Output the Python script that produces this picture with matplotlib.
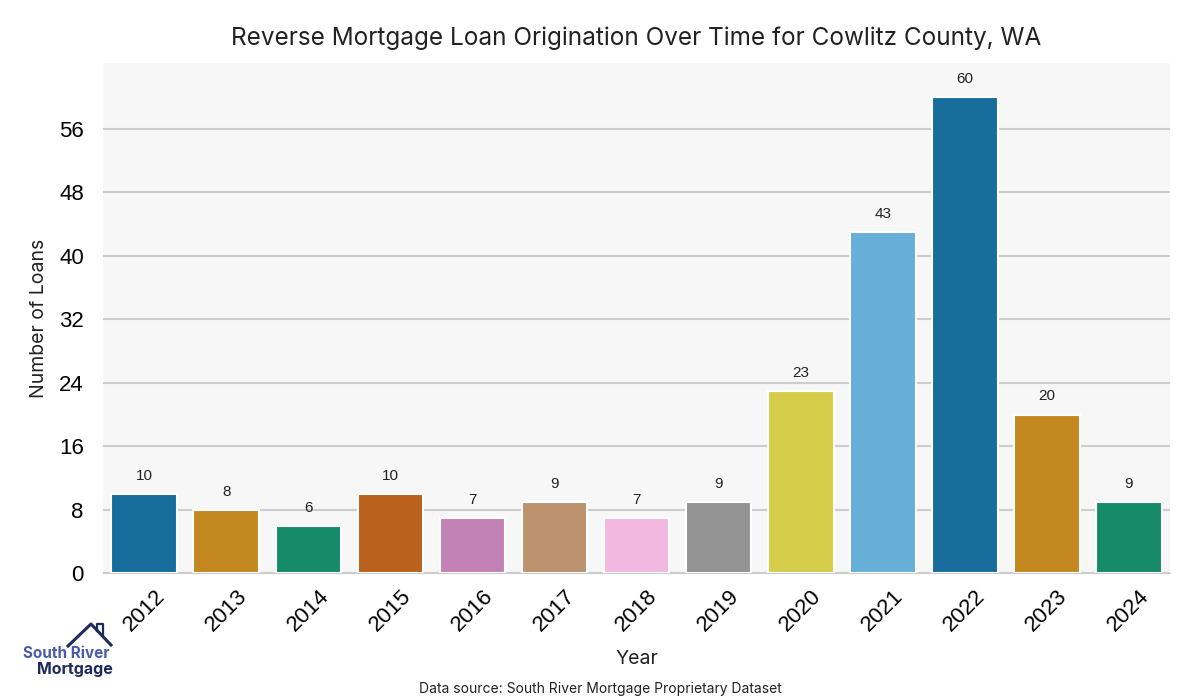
import matplotlib
matplotlib.use("Agg")
from matplotlib import pyplot as plt
from matplotlib.lines import Line2D
import seaborn as sns
import pandas as pd

years = ["2012", "2013", "2014", "2015", "2016", "2017", "2018",
         "2019", "2020", "2021", "2022", "2023", "2024"]
loans = [10, 8, 6, 10, 7, 9, 7, 9, 23, 43, 60, 20, 9]
yticks = [0, 8, 16, 24, 32, 40, 48, 56]

df = pd.DataFrame({"Year": years, "Loans": loans})

fig = plt.figure(figsize=(12, 7), dpi=100)
ax = fig.add_axes([0.086, 0.181, 0.889, 0.729])
ax.set_facecolor("#f7f7f7")

sns.barplot(data=df, x="Year", y="Loans", hue="Year", palette="colorblind",
            saturation=0.75, edgecolor="white", linewidth=1.5, legend=False,
            ax=ax, zorder=3)

for i, v in enumerate(loans):
    ax.text(i, v + 1.4, str(v), ha="center", va="bottom", fontsize=11,
            family="Liberation Sans", color="#222222")

ax.set_ylim(0, 64.3)
ax.set_xlim(-0.5, len(years) - 0.5)
ax.set_yticks(yticks)
ax.yaxis.grid(True, color="#cccccc", linewidth=1.5, zorder=0)
ax.set_axisbelow(True)
for s in ["top", "right", "left"]:
    ax.spines[s].set_visible(False)
ax.spines["bottom"].set_color("#cccccc")
ax.tick_params(axis="both", length=0)
ax.tick_params(axis="y", labelsize=16, pad=14)
ax.tick_params(axis="x", labelsize=16, pad=9)
for lab in ax.get_xticklabels():
    lab.set_rotation(45)
    lab.set_family("Liberation Sans")
for lab in ax.get_yticklabels():
    lab.set_family("Liberation Sans")

ax.set_xlabel("Year", fontsize=14, family="Inter", color="#222222", labelpad=10)
ax.set_ylabel("Number of Loans", fontsize=14, family="Inter", color="#222222", labelpad=8)
fig.text(0.53, 0.945, "Reverse Mortgage Loan Origination Over Time for Cowlitz County, WA",
         ha="center", va="center", fontsize=17.5, family="Inter", color="#222222")
fig.text(0.5, 0.016, "Data source: South River Mortgage Proprietary Dataset",
         ha="center", va="center", fontsize=10, family="Inter", color="#222222")

# logo
fig.text(0.019, 0.067, "South River", fontsize=11, fontweight="bold",
         family="Inter", color="#4a5bab", ha="left", va="center")
fig.text(0.031, 0.043, "Mortgage", fontsize=11.5, fontweight="bold",
         family="Inter", color="#1f2a5c", ha="left", va="center")
roof_x = [68 / 1200, 91 / 1200, 111 / 1200]
roof_y = [1 - 646 / 700, 1 - 624 / 700, 1 - 645 / 700]
fig.add_artist(Line2D(roof_x, roof_y, color="#1f2a5c", linewidth=2.2))
fig.add_artist(Line2D([97 / 1200, 97 / 1200, 103 / 1200, 103 / 1200],
                      [1 - 631 / 700, 1 - 624 / 700, 1 - 624 / 700, 1 - 637 / 700],
                      color="#1f2a5c", linewidth=1.6))

fig.savefig("out.png", dpi=100)
